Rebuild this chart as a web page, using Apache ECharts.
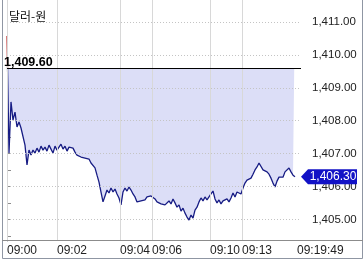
<!DOCTYPE html>
<html><head><meta charset="utf-8">
<script src="https://cdn.jsdelivr.net/npm/echarts@6/dist/echarts.min.js"></script>
<style>html,body{margin:0;padding:0;background:#fff}#c{width:363px;height:259px}</style>
</head><body><div id="c"></div>
<script>
const title = '달러-원';
const prevClose = 1409.60;
const yTicks = [1405, 1406, 1407, 1408, 1409, 1410, 1411];
const timeTickIndex = [0, 25, 56.5, 72.5, 101.5, 117.5, 145];
const timeTickLabels = ['09:00', '09:02', '09:04', '09:06', '09:10', '09:13', '09:19:49'];
const prices = [
  1410.57, 1407.02, 1408.57, 1408.02, 1408.26, 1407.81, 1407.96, 1407.78, 1407.84, 1407.26,
  1406.66, 1407.11, 1406.96, 1407.11, 1407.02, 1407.17, 1407.05, 1407.23, 1407.11, 1407.20,
  1407.08, 1407.26, 1407.14, 1407.02, 1407.23, 1407.11, 1407.17, 1407.29, 1407.14, 1407.23,
  1407.08, 1407.20, 1407.26, 1407.17, 1407.05, 1406.96, 1406.99, 1406.90, 1406.93, 1406.87,
  1406.81, 1406.84, 1406.72, 1406.66, 1406.57, 1406.35, 1406.14, 1405.84, 1405.54, 1405.72,
  1405.90, 1405.81, 1405.96, 1405.84, 1405.93, 1405.78, 1405.66, 1405.45, 1405.84, 1405.96,
  1405.87, 1405.99, 1405.90, 1405.78, 1405.69, 1405.54, 1405.60, 1405.57, 1405.63, 1405.60,
  1405.69, 1405.63, 1405.72, 1405.75, 1405.63, 1405.54, 1405.60, 1405.48, 1405.54, 1405.45,
  1405.51, 1405.57, 1405.48, 1405.63, 1405.51, 1405.38, 1405.45, 1405.26, 1405.35, 1405.20,
  1405.08, 1404.99, 1405.14, 1405.05, 1405.29, 1405.38, 1405.54, 1405.66, 1405.57, 1405.69,
  1405.60, 1405.63, 1405.78, 1405.87, 1405.63, 1405.51, 1405.60, 1405.48, 1405.57, 1405.51,
  1405.63, 1405.54, 1405.66, 1405.81, 1405.69, 1405.84, 1405.90, 1405.78, 1405.96, 1406.11,
  1406.20, 1406.14, 1406.26, 1406.38, 1406.51, 1406.60, 1406.72, 1406.66, 1406.51, 1406.57,
  1406.45, 1406.38, 1406.26, 1406.11, 1405.99, 1406.17, 1406.29, 1406.35, 1406.29, 1406.45,
  1406.51, 1406.57, 1406.45, 1406.35, 1406.30
];

const fmt = v => Number(v).toLocaleString('en-US', {minimumFractionDigits: 2, maximumFractionDigits: 2});
const data = prices.map((v, i) => [i, v]);
const last = prices[prices.length - 1];
const xMax = 147;
const yMin = 1404.355, yMax = 1411.66;
const closeLine = [[0, prevClose], [xMax, prevClose]];
const tickVals = [];
yTicks.forEach(v => { tickVals.push(v - 0.5); tickVals.push(v); });
tickVals.push(yTicks[yTicks.length - 1] + 0.5);

const chart = echarts.init(document.getElementById('c'), null, {renderer: 'canvas'});
chart.setOption({
  animation: false,
  textStyle: {fontFamily: 'Liberation Sans'},
  title: {text: title, left: 4, top: 5,
    textStyle: {fontFamily: 'Noto Sans CJK KR', fontSize: 12, fontWeight: 'normal', color: '#111'}},
  grid: {left: 7, right: 62, top: 0, bottom: 18},
  xAxis: {
    type: 'value', min: 0, max: xMax,
    axisLine: {show: false}, axisTick: {show: false}, splitLine: {show: false},
    axisLabel: {customValues: timeTickIndex,
      formatter: v => timeTickLabels[timeTickIndex.indexOf(v)],
      align: 'left', margin: 4, fontSize: 12, color: '#222'}
  },
  yAxis: {
    type: 'value', position: 'right', min: yMin, max: yMax,
    axisLine: {show: true, lineStyle: {color: '#8c8c8c'}},
    axisTick: {show: true, customValues: tickVals, length: 4, lineStyle: {color: '#8c8c8c'}},
    axisLabel: {customValues: yTicks, formatter: v => fmt(v), margin: 11, fontSize: 11.5, color: '#222'},
    splitLine: {show: false}
  },
  visualMap: {type: 'piecewise', show: false, dimension: 1, seriesIndex: 3,
    pieces: [{min: prevClose, max: yMax, color: '#c02828'}, {min: yMin, max: prevClose, color: '#171c84'}],
    outOfRange: {color: '#171c84'}},
  graphic: [
    {type: 'polyline', shape: {points: [[2.5, 0], [2.5, 258.5], [362.5, 258.5], [362.5, 0]]},
     style: {stroke: '#8f96a3', fill: null, lineWidth: 1}, z: 10},
    {type: 'line', shape: {x1: 2, y1: 240.5, x2: 363, y2: 240.5},
     style: {stroke: '#8c8c8c', lineWidth: 1}, z: 10}
  ],
  series: [
    {
      type: 'line', data: data, silent: true, showSymbol: false, z: 1,
      lineStyle: {opacity: 0}, color: '#dcdef7',
      areaStyle: {color: '#dcdef7', opacity: 1, origin: 'end'}
    },
    {
      type: 'line', data: closeLine, silent: true, showSymbol: false, z: 1.5,
      lineStyle: {opacity: 0}, color: '#ffffff',
      areaStyle: {color: '#ffffff', opacity: 1, origin: 'end'}
    },
    {
      type: 'line', data: [], silent: true, showSymbol: false, z: 2,
      markLine: {silent: true, symbol: 'none', animation: false, label: {show: false},
        data: [
          ...yTicks.map(v => ({yAxis: v, lineStyle: {color: '#c4c4c4', type: [1, 2], width: 1}})),
          ...timeTickIndex.slice(0, -1).map(v => ({xAxis: v, lineStyle: {color: '#d8d8d8', type: 'solid', width: 1}}))
        ]}
    },
    {
      type: 'line', data: data, showSymbol: false, z: 3,
      lineStyle: {width: 1.3},
      markLine: {silent: true, symbol: 'none', animation: false, label: {show: false},
        data: [{yAxis: prevClose, lineStyle: {color: '#000', type: 'solid', width: 1}}]},
      markPoint: {silent: true, animation: false,
        data: [
          {coord: [0, prevClose], symbol: 'circle', symbolSize: 0,
           label: {show: true, position: [-3, -12], formatter: fmt(prevClose),
             fontFamily: 'Liberation Sans', fontWeight: 'bold', fontSize: 12.5, color: '#000'}},
          {coord: [xMax, last], symbol: 'path://M0,7 L7,0 L56,0 L56,14 L7,14 Z',
           symbolSize: [56, 15], symbolKeepAspect: false, symbolOffset: [28, 0],
           itemStyle: {color: '#1212c6'},
           label: {show: true, position: 'inside', offset: [4, 0], formatter: fmt(last),
             fontFamily: 'Liberation Sans', fontSize: 12, color: '#fff'}}
        ]}
    }
  ]
});
</script></body></html>
